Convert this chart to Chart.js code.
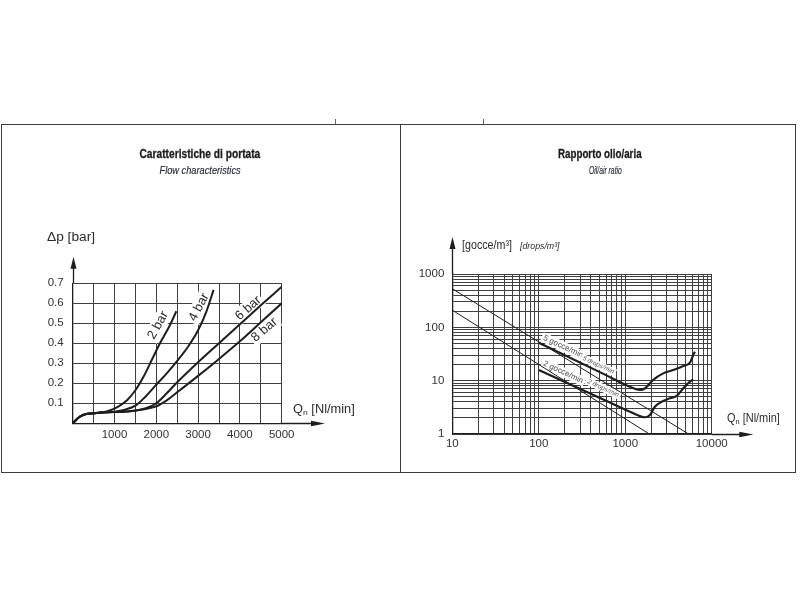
<!DOCTYPE html>
<html>
<head>
<meta charset="utf-8">
<title>Caratteristiche di portata / Rapporto olio/aria</title>
<script src="https://cdn.jsdelivr.net/npm/chart.js@4.4.1/dist/chart.umd.min.js"></script>
<style>
html, body { margin: 0; padding: 0; background: #fff; }
body { position: relative; width: 800px; height: 600px; overflow: hidden; font-family: Arial, "Liberation Sans", Helvetica, sans-serif; color: #2b2b2b; }
.frame { position: absolute; left: 1px; top: 124px; width: 795px; height: 349px; border: 1px solid #3c3c3c; box-sizing: border-box; }
.divider { position: absolute; left: 400px; top: 124px; width: 1px; height: 349px; background: #3c3c3c; }
.nick { position: absolute; width: 1px; height: 5px; top: 119px; background: #666; }
canvas { position: absolute; top: 0; }
.txt { position: absolute; white-space: nowrap; line-height: 1; display: inline-block; }
.title { font-weight: bold; font-size: 13.5px; color: #1a1a1a; -webkit-text-stroke: 0.3px #1a1a1a; }
.sub { font-style: italic; font-size: 10.5px; color: #1f2433; -webkit-text-stroke: 0.15px #1f2433; }
.axt { font-size: 12px; color: #2b2b2b; }
.axt sub { font-size: 8px; vertical-align: -2px; }
.axt i { font-size: 9px; }
</style>
</head>
<body>
<div class="frame"></div>
<div class="divider"></div>
<div class="nick" style="left:335px"></div>
<div class="nick" style="left:483px"></div>

<canvas id="flow" width="400" height="600" style="left:0"></canvas>
<canvas id="oil" width="400" height="600" style="left:400px"></canvas>

<div class="txt title" data-x="200" data-y="154" data-w="121" data-align="c">Caratteristiche di portata</div>
<div class="txt sub" data-x="200" data-y="170" data-w="81" data-align="c">Flow characteristics</div>
<div class="txt title" data-x="599.5" data-y="154" data-w="84" data-align="c">Rapporto olio/aria</div>
<div class="txt sub" data-x="605" data-y="170" data-w="33" data-align="c">Oil/air ratio</div>

<div class="txt axt" data-x="47" data-y="237" data-w="48">&Delta;p [bar]</div>
<div class="txt axt" data-x="293" data-y="410" data-w="62">Q<sub>n</sub> [Nl/min]</div>
<div class="txt axt" data-x="462" data-y="245" data-w="50">[gocce/m&sup3;]</div>
<div class="txt axt" data-x="520" data-y="245" data-w="40"><i>[drops/m&sup3;]</i></div>
<div class="txt axt" data-x="727" data-y="419" data-w="53">Q<sub>n</sub> [Nl/min]</div>

<script>
// ---- Caratteristiche di portata (Q in Nl/min, dp in bar)
const flowQTicks = [0, 500, 1000, 1500, 2000, 2500, 3000, 3500, 4000, 4500, 5000];
const flowQLabels = [1000, 2000, 3000, 4000, 5000];
const flowPTicks = [0, 0.1, 0.2, 0.3, 0.4, 0.5, 0.6, 0.7];
const flowPLabels = ['', '0.1', '0.2', '0.3', '0.4', '0.5', '0.6', '0.7'];

const q2bar = [0, 150, 300, 500, 700, 900, 1100, 1300, 1500, 1700, 1900, 2100, 2300, 2480];
const p2bar = [0, 0.03, 0.045, 0.05, 0.054, 0.065, 0.085, 0.115, 0.165, 0.235, 0.32, 0.405, 0.48, 0.56];
const q4bar = [0, 150, 300, 500, 700, 1000, 1250, 1500, 1750, 2000, 2250, 2500, 2750, 3000, 3200, 3370];
const p4bar = [0, 0.03, 0.045, 0.05, 0.054, 0.058, 0.068, 0.088, 0.135, 0.193, 0.25, 0.312, 0.38, 0.465, 0.56, 0.667];
const q6bar = [0, 150, 300, 500, 700, 1000, 1500, 1750, 2000, 2250, 2500, 3000, 3500, 4000, 4500, 5000];
const p6bar = [0, 0.03, 0.045, 0.05, 0.054, 0.056, 0.063, 0.075, 0.1, 0.15, 0.205, 0.305, 0.4, 0.495, 0.59, 0.683];
const q8bar = [0, 150, 300, 500, 700, 1000, 1500, 2000, 2250, 2500, 3000, 3500, 4000, 4500, 5000];
const p8bar = [0, 0.03, 0.045, 0.05, 0.054, 0.056, 0.064, 0.085, 0.115, 0.155, 0.237, 0.322, 0.41, 0.505, 0.6];

// ---- Rapporto olio/aria (Q in Nl/min, gocce/m3)
const oilQTicks = [10, 20, 30, 40, 50, 60, 70, 80, 90, 100, 200, 300, 400, 500, 600, 700, 800, 900,
  1000, 2000, 3000, 4000, 5000, 6000, 7000, 8000, 9000, 10000];
const oilQLabels = [10, 100, 1000, 10000];
const oilVTicks = [1, 2, 3, 4, 5, 6, 7, 8, 9, 10, 20, 30, 40, 50, 60, 70, 80, 90,
  100, 200, 300, 400, 500, 600, 700, 800, 900, 1000];
const oilVLabels = [1, 10, 100, 1000];

const qThin5 = [10, 5400];
const vThin5 = [530, 1];
const qThin2 = [10, 1900];
const vThin2 = [210, 1];
const q5drops = [100, 600, 1135, 1480, 1700, 2100, 2750, 3600, 4700, 5600, 6100, 6400];
const v5drops = [51.5, 12.7, 7.7, 6.7, 7.2, 10.3, 13.7, 15.8, 18.8, 21.7, 30, 35];
const q2drops = [100, 600, 1135, 1700, 1930, 2200, 2640, 3300, 3940, 4700, 5600, 6100];
const v2drops = [15.8, 4.2, 2.62, 2.06, 2.27, 3.25, 4.03, 4.67, 5.16, 7.2, 9.6, 10.6];

const ink = '#1e1e1e';
const gridColor = '#3f3f3f';
const tickFont = { family: 'Arial, "Liberation Sans", sans-serif', size: 11.5 };

function series(xs, ys, width) {
    return {
        data: xs.map((x, i) => ({ x, y: ys[i] })),
        borderColor: ink,
        borderWidth: width,
        pointRadius: 0,
        fill: false,
        cubicInterpolationMode: 'monotone',
    };
}

// labels along curves and axis arrows
const decorations = {
    id: 'decorations',
    beforeDatasetsDraw(chart, args, opts) {
        const { ctx } = chart;
        const xs = chart.scales.x, ys = chart.scales.y;
        (opts.labels || []).forEach(l => {
            const px = xs.getPixelForValue(l.x);
            const py = ys.getPixelForValue(l.y);
            ctx.save();
            ctx.translate(px, py);
            ctx.rotate(l.angle * Math.PI / 180);
            ctx.font = l.font;
            const w = ctx.measureText(l.text).width;
            ctx.fillStyle = '#fff';
            ctx.fillRect(-w / 2 - 2, -l.size * 0.6, w + 4, l.size * 1.2);
            ctx.fillStyle = l.color || '#2b2b2b';
            ctx.textAlign = 'center';
            ctx.textBaseline = 'middle';
            ctx.fillText(l.text, 0, 0);
            ctx.restore();
        });
    },
    afterDraw(chart, args, opts) {
        const { ctx, chartArea: a } = chart;
        const x0 = Math.round(a.left) + 0.5, y0 = Math.round(a.bottom) + 0.5;
        ctx.save();
        ctx.strokeStyle = ink;
        ctx.fillStyle = ink;
        ctx.lineWidth = 1.3;
        ctx.beginPath();
        ctx.moveTo(x0, a.top);
        ctx.lineTo(x0, opts.yTip + 6);
        ctx.moveTo(a.right, y0);
        ctx.lineTo(opts.xTip - 6, y0);
        ctx.stroke();
        ctx.beginPath();
        ctx.moveTo(x0, opts.yTip);
        ctx.lineTo(x0 - 3, opts.yTip + 12);
        ctx.lineTo(x0 + 3, opts.yTip + 12);
        ctx.closePath();
        ctx.moveTo(opts.xTip, y0);
        ctx.lineTo(opts.xTip - 14, y0 - 2.8);
        ctx.lineTo(opts.xTip - 14, y0 + 2.8);
        ctx.closePath();
        ctx.fill();
        ctx.restore();
    }
};

function baseOptions(padding) {
    return {
        responsive: false,
        animation: false,
        events: [],
        layout: { padding },
        scales: {}
    };
}

new Chart(document.getElementById('flow'), {
    type: 'line',
    data: {
        datasets: [
            series(q2bar, p2bar, 2),
            series(q4bar, p4bar, 2),
            series(q6bar, p6bar, 2),
            series(q8bar, p8bar, 2),
        ]
    },
    options: {
        ...baseOptions({ left: 0, top: 283.3, right: 118.3, bottom: 146.7 }),
        scales: {
            x: {
                type: 'linear', min: 0, max: 5000,
                afterBuildTicks: s => { s.ticks = flowQTicks.map(v => ({ value: v })); },
                afterFit: s => { s.height = 30; },
                ticks: {
                    autoSkip: false, maxRotation: 0, minRotation: 0, padding: 5,
                    font: tickFont, color: '#333',
                    callback: v => flowQLabels.includes(v) ? String(v) : ''
                },
                grid: { color: gridColor, lineWidth: 1, drawTicks: false },
                border: { color: ink, width: 1.3 }
            },
            y: {
                type: 'linear', min: 0, max: 0.7,
                afterBuildTicks: s => { s.ticks = flowPTicks.map(v => ({ value: v })); },
                afterFit: s => { s.width = 72.7; },
                ticks: {
                    autoSkip: false, padding: 9, font: tickFont, color: '#333',
                    callback: (v, i) => flowPLabels[i]
                },
                grid: { color: gridColor, lineWidth: 1, drawTicks: false },
                border: { color: ink, width: 1.3 }
            }
        },
        plugins: {
            legend: { display: false },
            tooltip: { enabled: false },
            decorations: {
                yTip: 256.7, xTip: 325,
                labels: [
                    { text: '2 bar', x: 2041, y: 0.49, angle: -61, font: '13px Arial, "Liberation Sans", sans-serif', size: 13 },
                    { text: '4 bar', x: 3022, y: 0.58, angle: -62, font: '13px Arial, "Liberation Sans", sans-serif', size: 13 },
                    { text: '6 bar', x: 4201, y: 0.575, angle: -41, font: '13px Arial, "Liberation Sans", sans-serif', size: 13 },
                    { text: '8 bar', x: 4586, y: 0.467, angle: -41, font: '13px Arial, "Liberation Sans", sans-serif', size: 13 },
                ]
            }
        }
    },
    plugins: [decorations]
});

new Chart(document.getElementById('oil'), {
    type: 'line',
    data: {
        datasets: [
            series(qThin5, vThin5, 1),
            series(qThin2, vThin2, 1),
            series(q5drops, v5drops, 2.2),
            series(q2drops, v2drops, 2.2),
        ]
    },
    options: {
        ...baseOptions({ left: 0, top: 274, right: 88.3, bottom: 136 }),
        scales: {
            x: {
                type: 'logarithmic', min: 10, max: 10000,
                afterBuildTicks: s => { s.ticks = oilQTicks.map(v => ({ value: v })); },
                afterFit: s => { s.height = 30; },
                ticks: {
                    autoSkip: false, maxRotation: 0, minRotation: 0, padding: 3,
                    font: tickFont, color: '#333',
                    callback: v => oilQLabels.includes(v) ? String(v) : ''
                },
                grid: { color: gridColor, lineWidth: 1, drawTicks: false },
                border: { color: ink, width: 1.3 }
            },
            y: {
                type: 'logarithmic', min: 1, max: 1000,
                afterBuildTicks: s => { s.ticks = oilVTicks.map(v => ({ value: v })); },
                afterFit: s => { s.width = 52.3; },
                ticks: {
                    autoSkip: false, padding: 8, font: tickFont, color: '#333',
                    callback: v => oilVLabels.includes(v) ? String(v) : ''
                },
                grid: { color: gridColor, lineWidth: 1, drawTicks: false },
                border: { color: ink, width: 1.3 }
            }
        },
        plugins: {
            legend: { display: false },
            tooltip: { enabled: false },
            decorations: {
                yTip: 237, xTip: 353.3,
                labels: [
                    { text: '5 gocce/min', x: 192, y: 43.4, angle: 25, font: '8px Arial, "Liberation Sans", sans-serif', size: 8, color: '#444' },
                    { text: '5 drops/min', x: 488, y: 19.7, angle: 25, font: 'italic 6.5px Arial, "Liberation Sans", sans-serif', size: 6.5, color: '#555' },
                    { text: '2 gocce/min', x: 192, y: 14.4, angle: 25, font: '8px Arial, "Liberation Sans", sans-serif', size: 8, color: '#444' },
                    { text: '2 drops/min', x: 557, y: 7.2, angle: 25, font: 'italic 6.5px Arial, "Liberation Sans", sans-serif', size: 6.5, color: '#555' },
                ]
            }
        }
    },
    plugins: [decorations]
});

// place the html texts and squeeze them to the measured widths
document.querySelectorAll('.txt').forEach(el => {
    const w = el.offsetWidth, h = el.offsetHeight;
    const k = (+el.dataset.w) / w;
    const x = +el.dataset.x, y = +el.dataset.y;
    const centred = el.dataset.align === 'c';
    el.style.left = (centred ? x - w / 2 : x) + 'px';
    el.style.top = (y - h / 2) + 'px';
    el.style.transformOrigin = centred ? '50% 50%' : '0 50%';
    el.style.transform = 'scaleX(' + k.toFixed(3) + ')';
});
</script>
</body>
</html>
